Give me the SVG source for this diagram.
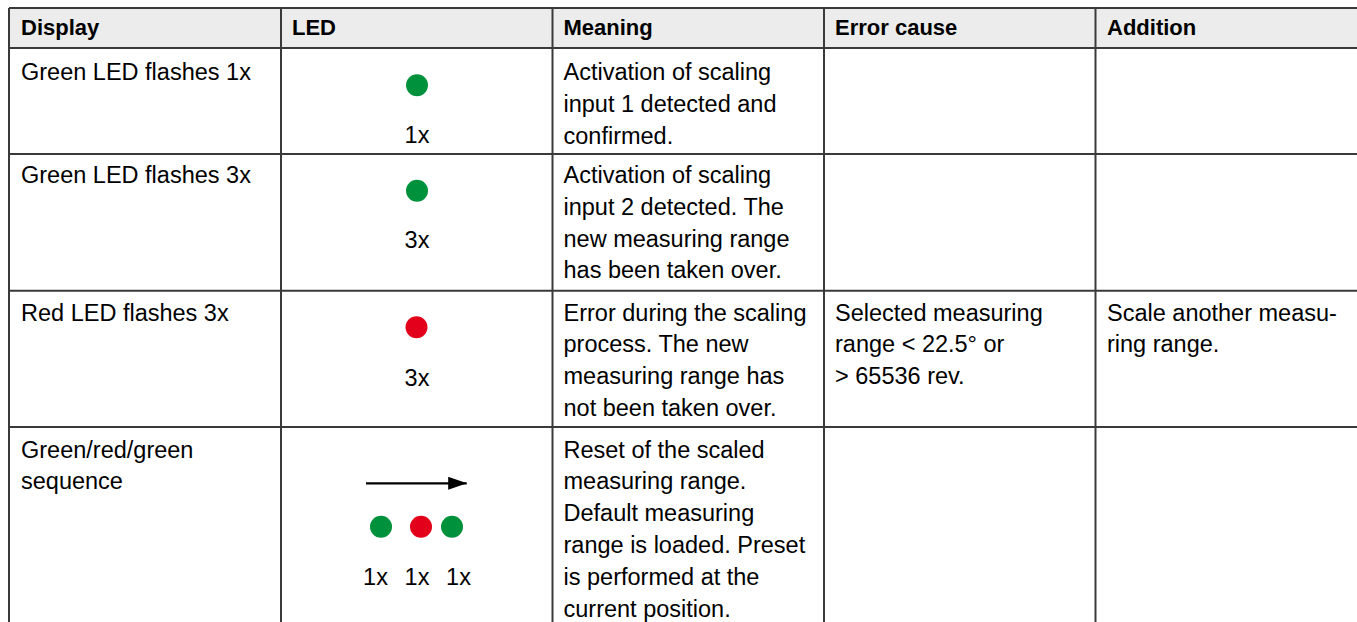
<svg xmlns="http://www.w3.org/2000/svg" width="1357" height="622" viewBox="0 0 1357 622">
  <defs>
    <style>
      .t { font-family: "Liberation Sans", Arial, sans-serif; font-size: 23.5px; fill: #000; }
      .h { font-family: "Liberation Sans", Arial, sans-serif; font-size: 22px; font-weight: bold; fill: #000; }
      .c { text-anchor: middle; }
      .grid { stroke: #3a3a3a; stroke-width: 2; fill: none; }
      .g { fill: #00913d; }
      .r { fill: #e2001a; }
    </style>
    <marker id="arr" viewBox="0 0 19 13" refX="18.5" refY="6.5" markerWidth="19" markerHeight="13" markerUnits="userSpaceOnUse" orient="auto">
      <path d="M0,0 L19,6.5 L0,13 Z" fill="#000"/>
    </marker>
  </defs>
  <rect x="0" y="0" width="1357" height="622" fill="#fff"/>
  <rect x="9" y="8" width="1348" height="40" fill="#ebeceb"/>

  <g id="grid" class="grid">
    <line x1="9" y1="8" x2="1357" y2="8"/>
    <line x1="9" y1="48" x2="1357" y2="48"/>
    <line x1="9" y1="154" x2="1357" y2="154"/>
    <line x1="9" y1="290.7" x2="1357" y2="290.7"/>
    <line x1="9" y1="427" x2="1357" y2="427"/>
    <line x1="9" y1="8" x2="9" y2="622"/>
    <line x1="281" y1="8" x2="281" y2="622"/>
    <line x1="552.5" y1="8" x2="552.5" y2="622"/>
    <line x1="824" y1="8" x2="824" y2="622"/>
    <line x1="1095.5" y1="8" x2="1095.5" y2="622"/>
  </g>

  <g id="header">
    <text class="h" x="21" y="35">Display</text>
    <text class="h" x="292" y="35">LED</text>
    <text class="h" x="563.5" y="35">Meaning</text>
    <text class="h" x="835" y="35">Error cause</text>
    <text class="h" x="1107" y="35">Addition</text>
  </g>

  <g id="row1">
    <text class="t" x="21" y="80">Green LED flashes 1x</text>
    <circle class="g" cx="417" cy="85.3" r="11"/>
    <text class="t c" x="417" y="142.7">1x</text>
    <text class="t"><tspan x="563.5" y="80">Activation of scaling</tspan><tspan x="563.5" y="111.8">input 1 detected and</tspan><tspan x="563.5" y="143.6">confirmed.</tspan></text>
  </g>

  <g id="row2">
    <text class="t" x="21" y="183">Green LED flashes 3x</text>
    <circle class="g" cx="417" cy="190.7" r="11"/>
    <text class="t c" x="417" y="248.3">3x</text>
    <text class="t"><tspan x="563.5" y="183">Activation of scaling</tspan><tspan x="563.5" y="214.8">input 2 detected. The</tspan><tspan x="563.5" y="246.6">new measuring range</tspan><tspan x="563.5" y="278.4">has been taken over.</tspan></text>
  </g>

  <g id="row3">
    <text class="t" x="21" y="320.5">Red LED flashes 3x</text>
    <circle class="r" cx="416.5" cy="327.3" r="11"/>
    <text class="t c" x="417" y="386">3x</text>
    <text class="t"><tspan x="563.5" y="320.5">Error during the scaling</tspan><tspan x="563.5" y="352.3">process. The new</tspan><tspan x="563.5" y="384.1">measuring range has</tspan><tspan x="563.5" y="415.9">not been taken over.</tspan></text>
    <text class="t"><tspan x="835" y="320.5">Selected measuring</tspan><tspan x="835" y="352.3">range &lt; 22.5° or</tspan><tspan x="835" y="384.1">&gt; 65536 rev.</tspan></text>
    <text class="t"><tspan x="1107" y="320.5">Scale another measu-</tspan><tspan x="1107" y="352.3">ring range.</tspan></text>
  </g>

  <g id="row4">
    <text class="t"><tspan x="21" y="457.5">Green/red/green</tspan><tspan x="21" y="489.3">sequence</tspan></text>
    <g id="connectors">
      <line x1="366" y1="483.3" x2="466.7" y2="483.3" stroke="#000" stroke-width="2.2" marker-end="url(#arr)"/>
    </g>
    <circle class="g" cx="381" cy="526.7" r="11"/>
    <circle class="r" cx="421" cy="526.7" r="11"/>
    <circle class="g" cx="452" cy="526.7" r="11"/>
    <text class="t c" x="375.5" y="585">1x</text>
    <text class="t c" x="417" y="585">1x</text>
    <text class="t c" x="458.5" y="585">1x</text>
    <text class="t"><tspan x="563.5" y="457.5">Reset of the scaled</tspan><tspan x="563.5" y="489.3">measuring range.</tspan><tspan x="563.5" y="521.1">Default measuring</tspan><tspan x="563.5" y="552.9">range is loaded. Preset</tspan><tspan x="563.5" y="584.7">is performed at the</tspan><tspan x="563.5" y="616.5">current position.</tspan></text>
  </g>
</svg>
